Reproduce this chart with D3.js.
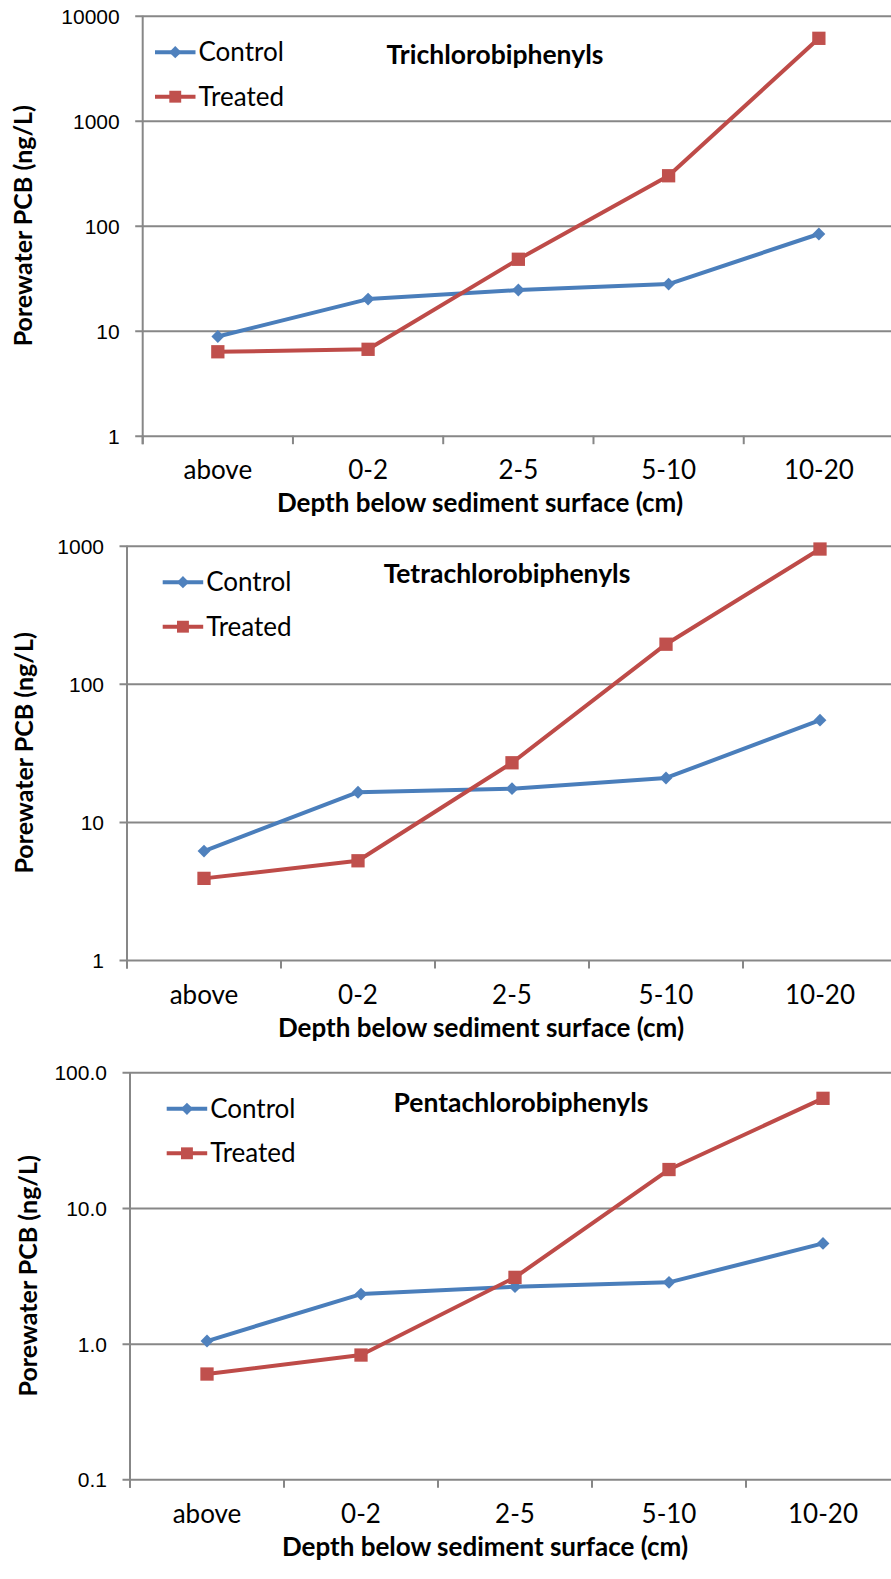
<!DOCTYPE html>
<html>
<head>
<meta charset="utf-8">
<script src="https://cdn.jsdelivr.net/npm/d3@7"></script>
<style>
  body { margin: 0; background: #fff; }
  svg { display: block; font-family: Lato, "Open Sans", sans-serif; }
</style>
</head>
<body>
<svg id="chart"></svg>
<script>
var categories = ["above", "0-2", "2-5", "5-10", "10-20"];
var seriesNames = ["Control", "Treated"];

var triControl = [8.8, 20, 24.4, 27.8, 83.4];
var triTreated = [6.3, 6.65, 47.9, 299, 6090];
var tetraControl = [6.15, 16.4, 17.4, 20.8, 54.5];
var tetraTreated = [3.9, 5.23, 26.8, 193.5, 946];
var pentaControl = [1.045, 2.32, 2.63, 2.83, 5.48];
var pentaTreated = [0.597, 0.824, 3.08, 19.2, 64.3];

var triTicks = [1, 10, 100, 1000, 10000];
var tetraTicks = [1, 10, 100, 1000];
var pentaTicks = [0.1, 1, 10, 100];

var width = 891, height = 1579;
var svg = d3.select("#chart").attr("width", width).attr("height", height);

var colors = { Control: "#4a7ebb", Treated: "#be4b48" };
var markerFill = { Control: "#4f81bd", Treated: "#c0504d" };
var gridColor = "#878787";

// one panel per homolog group
var panels = [
  { title: "Trichlorobiphenyls", control: triControl, treated: triTreated, ticks: triTicks, fmt: d3.format("d"),
    left: 142.7, right: 894, top: 15.7, bottom: 435.7, titleX: 495, titleY: 64, legendX: 155, xTitleX: 480, yTitleX: 32 },
  { title: "Tetrachlorobiphenyls", control: tetraControl, treated: tetraTreated, ticks: tetraTicks, fmt: d3.format("d"),
    left: 127, right: 897, top: 545.7, bottom: 960, titleX: 507, titleY: 583, legendX: 162.7, xTitleX: 481, yTitleX: 33 },
  { title: "Pentachlorobiphenyls", control: pentaControl, treated: pentaTreated, ticks: pentaTicks, fmt: d3.format(".1f"),
    left: 130, right: 900, top: 1072.3, bottom: 1479.3, titleX: 521, titleY: 1111.5, legendX: 166.7, xTitleX: 485, yTitleX: 37 }
];

panels.forEach(drawPanel);

function drawPanel(p) {
  var g = svg.append("g");

  var x = d3.scaleBand()
    .domain(categories)
    .range([p.left, p.right]);

  var y = d3.scaleLog()
    .domain([p.ticks[0], p.ticks[p.ticks.length - 1]])
    .range([p.bottom, p.top]);

  // gridlines + y ticks
  var yAxis = g.append("g")
    .attr("transform", "translate(" + p.left + ",0)")
    .call(d3.axisLeft(y).tickValues(p.ticks).tickFormat(p.fmt)
      .tickSize(-(p.right - p.left)).tickPadding(23));
  yAxis.select(".domain").remove();
  yAxis.selectAll(".tick line").attr("stroke", gridColor).attr("stroke-width", 2).attr("x1", -7.5);
  yAxis.selectAll(".tick text").attr("font-size", 21).attr("fill", "#000").attr("dy", "0.36em")
    .attr("x", -23);

  // x axis with boundary ticks
  var bounds = categories.map(function(c) { return x(c); }).concat([p.right]);
  g.selectAll(".xtick").data(bounds).enter().append("line")
    .attr("x1", function(d) { return d; }).attr("x2", function(d) { return d; })
    .attr("y1", p.bottom).attr("y2", p.bottom + 8.5)
    .attr("stroke", gridColor).attr("stroke-width", 2);

  g.selectAll(".xlabel").data(categories).enter().append("text")
    .attr("x", function(d) { return x(d) + x.bandwidth() / 2; })
    .attr("y", p.bottom + 43.5)
    .attr("text-anchor", "middle")
    .attr("font-size", 26)
    .text(function(d) { return d; });

  g.append("line")
    .attr("x1", p.left).attr("x2", p.left)
    .attr("y1", p.top).attr("y2", p.bottom + 8.5)
    .attr("stroke", gridColor).attr("stroke-width", 2);

  // series
  var line = d3.line()
    .x(function(d, i) { return x(categories[i]) + x.bandwidth() / 2; })
    .y(function(d) { return y(d); });

  [["Control", p.control], ["Treated", p.treated]].forEach(function(s) {
    var name = s[0], vals = s[1];
    g.append("path")
      .datum(vals)
      .attr("d", line)
      .attr("fill", "none")
      .attr("stroke", colors[name])
      .attr("stroke-width", 4)
      .attr("stroke-linejoin", "round");

    var sym = name === "Control" ? d3.symbolDiamond2 : d3.symbolSquare2;
    var size = name === "Control" ? 105 : 225;
    g.selectAll(".m-" + name).data(vals).enter().append("path")
      .attr("d", d3.symbol().type(sym).size(size))
      .attr("transform", function(d, i) {
        return "translate(" + (x(categories[i]) + x.bandwidth() / 2) + "," + y(d) + ")";
      })
      .attr("fill", markerFill[name])
      .attr("stroke", "none");
  });

  // legend
  seriesNames.forEach(function(name, i) {
    var ly = p.top + (i === 0 ? 36.5 : 81);
    var lg = g.append("g");
    lg.append("line")
      .attr("x1", p.legendX).attr("x2", p.legendX + 40.5)
      .attr("y1", ly).attr("y2", ly)
      .attr("stroke", colors[name]).attr("stroke-width", 4);
    lg.append("path")
      .attr("d", d3.symbol().type(name === "Control" ? d3.symbolDiamond2 : d3.symbolSquare2)
        .size(name === "Control" ? 95 : 180))
      .attr("transform", "translate(" + (p.legendX + 20.25) + "," + ly + ")")
      .attr("fill", markerFill[name]);
    lg.append("text")
      .attr("x", p.legendX + 43.5)
      .attr("y", ly + 9)
      .attr("font-size", 26)
      .text(name);
  });

  // titles
  g.append("text")
    .attr("x", p.titleX).attr("y", p.titleY)
    .attr("text-anchor", "middle")
    .attr("font-weight", "bold")
    .attr("font-size", 26.5)
    .text(p.title);

  g.append("text")
    .attr("x", p.xTitleX).attr("y", p.bottom + 76.5)
    .attr("text-anchor", "middle")
    .attr("font-weight", "bold")
    .attr("font-size", 26)
    .text("Depth below sediment surface (cm)");

  g.append("text")
    .attr("transform", "translate(" + p.yTitleX + "," + ((p.top + p.bottom) / 2) + ") rotate(-90)")
    .attr("text-anchor", "middle")
    .attr("font-weight", "bold")
    .attr("font-size", 25)
    .text("Porewater PCB (ng/L)");
}
</script>
</body>
</html>
